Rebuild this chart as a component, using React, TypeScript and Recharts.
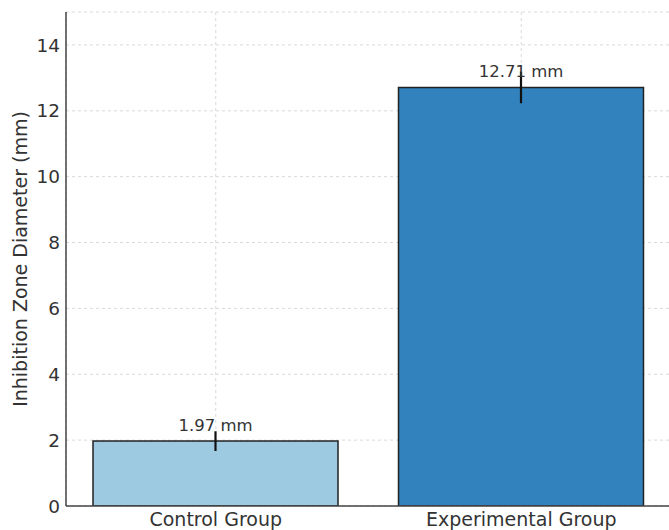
import React from "react";
import { BarChart, Bar, XAxis, YAxis, CartesianGrid, ErrorBar, LabelList, Cell } from "recharts";

const categories = ["Control Group", "Experimental Group"];
const means = [1.97, 12.71];
const errors = [0.3, 0.48];
const yTicks = [0, 2, 4, 6, 8, 10, 12, 14];

const data = categories.map((name, i) => ({ name, mean: means[i], err: errors[i] }));
const fills = ["#9ecae1", "#3182bd"];
const FONT = "'DejaVu Sans', Verdana, sans-serif";

const YLabel = (props: any) => {
  const vb = props.viewBox || {};
  const cx = 27;
  const cy = (vb.y ?? 12) + (vb.height ?? 494) / 2;
  return (
    <text x={cx} y={cy} transform={`rotate(-90, ${cx}, ${cy})`} textAnchor="middle" fill="#333" fontSize={19} fontFamily={FONT}>
      Inhibition Zone Diameter (mm)
    </text>
  );
};

export default function App() {
  return (
    <div style={{ position: "absolute", left: 0, top: 0, width: 669, height: 530, overflow: "hidden", background: "#fff" }}>
      <BarChart width={674} height={530} data={data} margin={{ top: 12, right: 0, left: 0, bottom: 0 }} style={{ fontFamily: FONT }}>
        <XAxis
          dataKey="name"
          height={24}
          padding={{ left: -3, right: 0 }}
          tickLine={false}
          tickSize={5}
          tickMargin={2}
          axisLine={{ stroke: "#444", strokeWidth: 1.5 }}
          tick={{ fill: "#333", fontSize: 19, fontFamily: FONT }}
        />
        <YAxis
          width={66}
          domain={[0, 15]}
          ticks={yTicks}
          type="number"
          allowDataOverflow
          tickLine={false}
          tickSize={4}
          tickMargin={2}
          axisLine={{ stroke: "#444", strokeWidth: 1.5 }}
          tick={{ fill: "#333", fontSize: 18.5, fontFamily: FONT }}
          label={<YLabel />}
        />
        <Bar dataKey="mean" barSize={245} stroke="#222" strokeWidth={1.5} isAnimationActive={false}>
          {data.map((d, i) => (
            <Cell key={d.name} fill={fills[i]} />
          ))}
          <ErrorBar dataKey="err" width={0} stroke="#111" strokeWidth={2.2} direction="y" />
          <LabelList dataKey="mean" position="top" offset={10} formatter={(v: any) => `${v} mm`} fill="#333" fontSize={16.5} fontFamily={FONT} />
        </Bar>
        <CartesianGrid strokeDasharray="3 3" stroke="#cfcfcf" strokeWidth={0.8} />
      </BarChart>
    </div>
  );
}
